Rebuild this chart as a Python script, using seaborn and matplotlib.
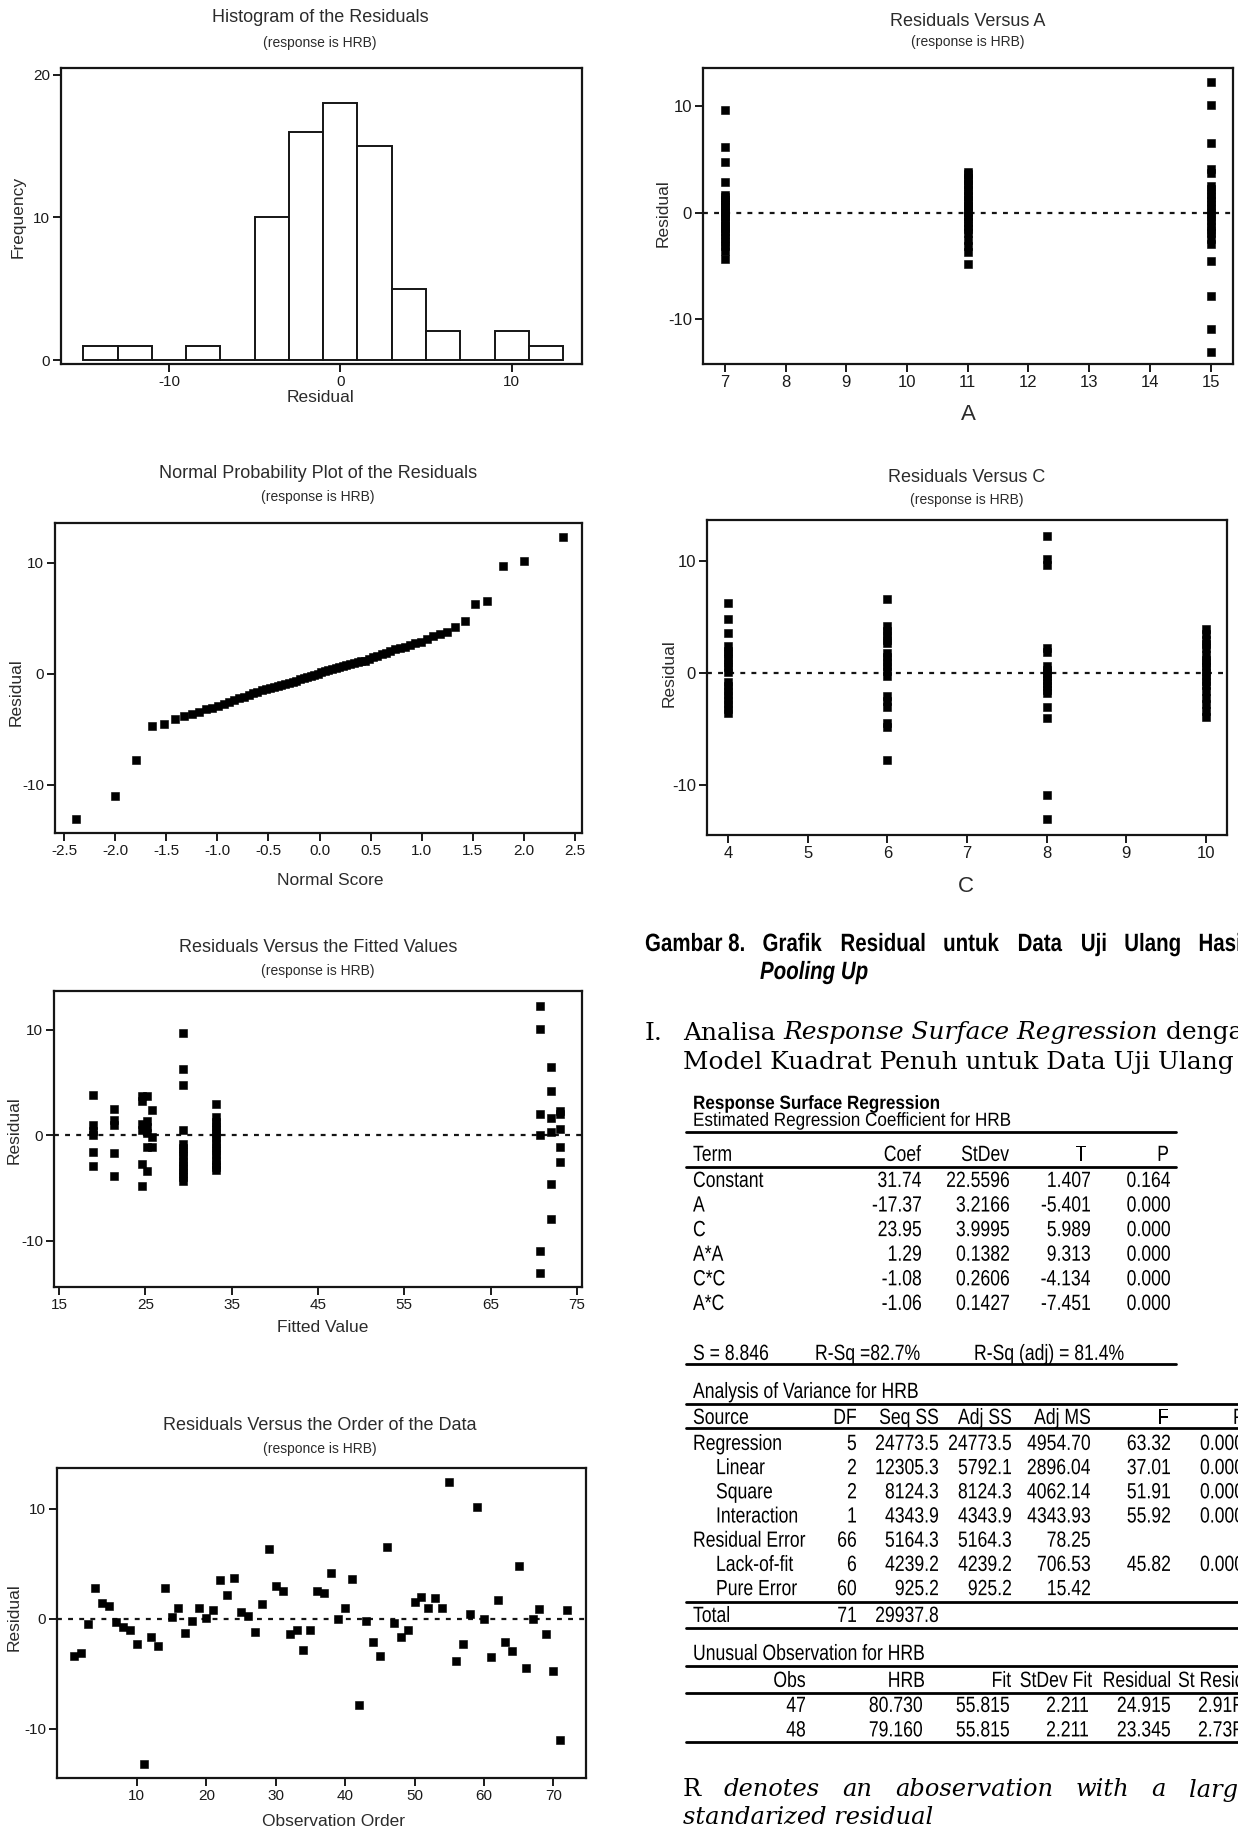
import numpy as np
import pandas as pd
import matplotlib
matplotlib.use("Agg")
import matplotlib.pyplot as plt
from matplotlib.lines import Line2D
from matplotlib.textpath import TextPath
from matplotlib.patches import PathPatch
from matplotlib.font_manager import FontProperties
from matplotlib.transforms import Affine2D, IdentityTransform
import seaborn as sns
from statistics import NormalDist

# ---------------- values ----------------
# histogram of the residuals (bin midpoints, width 2)
hist_mid = [-14, -12, -10, -8, -6, -4, -2, 0, 2, 4, 6, 8, 10, 12]
hist_count = [1, 1, 0, 1, 0, 10, 16, 18, 15, 5, 2, 0, 2, 1]

# normal probability plot, residuals sorted
prob_resid = [-13.1, -11.0, -7.8, -4.7, -4.5, -4.1,
              -3.8, -3.6, -3.4, -3.2, -3.05, -2.9, -2.7, -2.5, -2.35, -2.2,
              -2.05, -1.9, -1.7, -1.6, -1.5, -1.4, -1.3, -1.2, -1.1, -1.0,
              -0.95, -0.85, -0.75, -0.65, -0.5, -0.4, -0.3, -0.2, -0.1, 0.0,
              0.15, 0.25, 0.35, 0.45, 0.55, 0.65, 0.75, 0.8, 0.9, 1.0, 1.05, 1.15,
              1.2, 1.35, 1.5, 1.6, 1.75, 1.9, 2.05, 2.2,
              2.3, 2.45, 2.6, 2.75, 2.9,
              3.1, 3.4, 3.6, 3.8, 4.2,
              4.8, 6.3, 6.6, 9.7, 10.2, 12.3]

# residuals versus fitted values
fit_value = [18.9] * 6 + [21.4] * 5 + [24.6] * 6 + [25.2] * 6 + [25.8] * 3 \
    + [29.4] * 14 + [33.2] * 15 + [70.7] * 6 + [72.0] * 6 + [73.1] * 5
fit_resid = [3.8, 1.0, 0.4, 0.0, -1.6, -2.9,
             2.5, 1.5, 1.0, -1.7, -3.9,
             3.7, 3.3, 1.1, 0.5, -2.7, -4.8,
             3.7, 1.4, 0.8, 0.2, -1.1, -3.4,
             2.4, -0.2, -1.1,
             9.7, 6.3, 4.8, 0.5, -0.8, -1.2, -1.6, -2.0, -2.4, -2.8, -3.2, -3.6, -4.0, -4.3,
             3.0, 1.7, 1.3, 0.9, 0.5, 0.1, -0.3, -0.7, -1.1, -1.5, -1.9, -2.3, -2.7, -3.0, -3.3,
             12.3, 10.1, 2.0, 0.0, -11.0, -13.1,
             6.5, 4.2, 1.6, 0.3, -4.6, -7.9,
             2.3, 2.0, 0.6, -1.1, -2.5]

# residuals in observation order (1..72)
order_resid = [-3.4, -3.1, -0.45, 2.8, 1.45, 1.2, -0.3, -0.75, -1.0, -2.3,
               -13.2, -1.65, -2.5, 2.8, 0.2, 0.95, -1.3, -0.15, 0.95, 0.1,
               0.85, 3.5, 2.2, 3.7, 0.65, 0.25, -1.2, 1.35, 6.3, 2.95,
               2.5, -1.4, -1.0, -2.8, -1.0, 2.5, 2.35, 4.2, 0.0, 1.0,
               3.65, -7.8, -0.15, -2.1, -3.4, 6.55, -0.4, -1.65, -1.0, 1.5,
               2.0, 1.0, 1.9, 1.0, 12.4, -3.8, -2.25, 0.4, 10.2, 0.0,
               -3.5, 1.7, -2.1, -2.9, 4.8, -4.5, 0.0, 0.9, -1.35, -4.75,
               -11.0, 0.8]

# residuals versus factor A
a_levels = [7, 11, 15]
resid_a7 = [9.7, 6.2, 4.8, 2.9, 1.7, 1.5, 1.2, 1.0, 0.7, 0.5, 0.2, 0.0, -0.3, -0.6,
            -0.9, -1.2, -1.4, -1.7, -2.0, -2.4, -2.7, -3.1, -3.6, -4.3]
resid_a11 = [3.8, 3.6, 3.3, 3.1, 2.7, 2.5, 2.1, 1.8, 1.6, 1.2, 0.9, 0.6, 0.4, 0.1,
             -0.3, -0.5, -0.9, -1.2, -1.5, -1.9, -2.6, -3.1, -3.7, -4.8]
resid_a15 = [12.3, 10.1, 6.6, 4.1, 3.7, 2.5, 2.2, 1.8, 1.5, 1.1, 0.7, 0.4, 0.0, -0.4,
             -0.8, -1.2, -1.6, -1.9, -2.5, -2.9, -4.5, -7.8, -10.9, -13.1]

# residuals versus factor C
c_levels = [4, 6, 8, 10]
resid_c4 = [6.3, 4.8, 3.6, 2.4, 2.0, 1.7, 1.3, 0.9, 0.5, 0.1, -0.8, -1.2, -1.6, -2.0,
            -2.4, -2.8, -3.2, -3.6]
resid_c6 = [6.6, 4.2, 3.8, 3.4, 3.0, 2.7, 1.8, 1.4, 1.0, 0.6, 0.2, -0.3, -2.1, -2.5,
            -3.0, -4.5, -4.8, -7.8]
resid_c8 = [12.3, 10.2, 9.7, 2.2, 1.9, 0.6, 0.3, 0.0, -0.3, -0.6, -0.9, -1.2, -1.5,
            -1.8, -3.0, -4.0, -10.9, -13.1]
resid_c10 = [3.9, 3.5, 3.0, 2.6, 2.2, 1.6, 1.2, 0.9, 0.5, 0.1, -0.3, -0.7, -1.1, -1.6,
             -2.2, -2.8, -3.4, -3.9]

# regression output table
coef_terms = ["Constant", "A", "C", "A*A", "C*C", "A*C"]
coef_vals = ["31.74", "-17.37", "23.95", "1.29", "-1.08", "-1.06"]
coef_sd = ["22.5596", "3.2166", "3.9995", "0.1382", "0.2606", "0.1427"]
coef_t = ["1.407", "-5.401", "5.989", "9.313", "-4.134", "-7.451"]
coef_p = ["0.164", "0.000", "0.000", "0.000", "0.000", "0.000"]

anova_src = ["Regression", "Linear", "Square", "Interaction", "Residual Error",
             "Lack-of-fit", "Pure Error"]
anova_indent = [False, True, True, True, False, True, True]
anova_df = ["5", "2", "2", "1", "66", "6", "60"]
anova_seq = ["24773.5", "12305.3", "8124.3", "4343.9", "5164.3", "4239.2", "925.2"]
anova_adj = ["24773.5", "5792.1", "8124.3", "4343.9", "5164.3", "4239.2", "925.2"]
anova_ms = ["4954.70", "2896.04", "4062.14", "4343.93", "78.25", "706.53", "15.42"]
anova_f = ["63.32", "37.01", "51.91", "55.92", "", "45.82", ""]
anova_p = ["0.000", "0.000", "0.000", "0.000", "", "0.000", ""]

unus_obs = ["47", "48"]
unus_hrb = ["80.730", "79.160"]
unus_fit = ["55.815", "55.815"]
unus_sdfit = ["2.211", "2.211"]
unus_res = ["24.915", "23.345"]
unus_st = ["2.91R", "2.73R"]

# ---------------- figure ----------------
sns.set_theme(style="ticks")
plt.rcParams['font.family'] = ['Liberation Sans', 'DejaVu Sans']
plt.rcParams['axes.unicode_minus'] = False
SERIF = 'DejaVu Serif'

W, H = 1238, 1834
fig = plt.figure(figsize=(W / 100, H / 100), dpi=100)
fig.patch.set_facecolor('white')
renderer = fig.canvas.get_renderer()
INK = '#2b2b2b'


def px_axes(l, t, r, b):
    return fig.add_axes([l / W, 1 - b / H, (r - l) / W, (b - t) / H])


def ftxt(x, y, s, **kw):
    kw.setdefault('va', 'center')
    return fig.text(x / W, 1 - y / H, s, **kw)


def hline(x0, x1, y, lw=2.0):
    fig.add_artist(Line2D([x0 / W, x1 / W], [1 - y / H, 1 - y / H],
                          color='black', lw=lw, transform=fig.transFigure))


def width_of(s, **kw):
    t = fig.text(0, 0, s, **kw)
    w = t.get_window_extent(renderer).width
    t.remove()
    return w


def fit_size(s, target, **kw):
    return 10 * target / width_of(s, size=10, **kw)


def chain(x, y, parts):
    for s, st in parts:
        ftxt(x, y, s, ha='left', **st)
        x += width_of(s, **st)


# narrow (condensed) sans text, drawn as a horizontally squeezed text path
def npath(s, px, weight='normal', style='normal'):
    fp = FontProperties(family='Liberation Sans', weight=weight, style=style)
    return TextPath((0, 0), s, size=px, prop=fp)


def nwidth(s, px=22, sx=0.8, **kw):
    return npath(s, px, **kw).get_extents().x1 * sx


def ntext(x, y, s, px=22, sx=0.8, ha='left', **kw):
    if not s:
        return
    tp = npath(s, px, **kw)
    w = tp.get_extents().x1 * sx
    x0 = x if ha == 'left' else x - w
    base = H - (y + 0.36 * px)
    tr = Affine2D().scale(sx, 1).translate(x0, base)
    fig.add_artist(PathPatch(tr.transform_path(tp), facecolor='black',
                             edgecolor='none', transform=IdentityTransform()))


def style_axes(ax, xlim, ylim, xticks, yticks, xticklabels=None, tsize=11):
    ax.set_xlim(xlim)
    ax.set_ylim(ylim)
    ax.set_xticks(xticks)
    ax.set_yticks(yticks)
    if xticklabels is not None:
        ax.set_xticklabels(xticklabels)
    for s in ax.spines.values():
        s.set_visible(True)
        s.set_linewidth(1.6)
        s.set_color('#151515')
    ax.tick_params(direction='out', length=6, width=1.4, labelsize=tsize,
                   colors='#1a1a1a', pad=2)
    ax.set_xlabel('')
    ax.set_ylabel('')
    ax.set_facecolor('white')


def zero_line(ax):
    ax.axhline(0, color='#151515', lw=1.6, ls=(0, (2.2, 2.8)), zorder=1)


def titles(cx, y, ysub, title, sub='(response is HRB)'):
    ftxt(cx, y, title, ha='center', size=13, color=INK)
    ftxt(cx, ysub, sub, ha='center', size=10, color=INK)


LAB = dict(size=12.5, color=INK, ha='center')
dot = dict(marker='s', s=36, color='black', edgecolor='black', linewidth=0.4,
           legend=False, zorder=3)

# ---- histogram ----
hist_values = np.repeat(hist_mid, hist_count)
ax = px_axes(61, 68, 582, 364)
sns.histplot(x=hist_values, bins=list(range(-15, 15, 2)), ax=ax,
             color='white', edgecolor='#151515', linewidth=1.4, alpha=1)
style_axes(ax, (-16.3, 14.1), (-0.28, 20.47), [-10, 0, 10], [0, 10, 20])
titles(320, 18, 43, 'Histogram of the Residuals')
ftxt(320, 397, 'Residual', **LAB)
ftxt(18, 217, 'Frequency', rotation=90, **LAB)

# ---- normal probability plot ----
n = len(prob_resid)
scores = [NormalDist().inv_cdf((i + 1 - 0.375) / (n + 0.25)) for i in range(n)]
ax = px_axes(55, 523, 582, 833)
sns.scatterplot(x=scores, y=prob_resid, ax=ax, **dot)
ticks = [-2.5, -2.0, -1.5, -1.0, -0.5, 0.0, 0.5, 1.0, 1.5, 2.0, 2.5]
style_axes(ax, (-2.59, 2.57), (-14.35, 13.6), ticks, [-10, 0, 10],
           xticklabels=[f'{t:.1f}' for t in ticks])
titles(318, 473, 497, 'Normal Probability Plot of the Residuals')
ftxt(330, 880, 'Normal Score', **LAB)
ftxt(16, 692, 'Residual', rotation=90, **LAB)

# ---- residuals versus fitted ----
ax = px_axes(54, 991, 582, 1287)
zero_line(ax)
sns.scatterplot(x=fit_value, y=fit_resid, ax=ax, **dot)
style_axes(ax, (14.4, 75.6), (-14.4, 13.7), list(range(15, 76, 10)), [-10, 0, 10])
titles(318, 947, 971, 'Residuals Versus the Fitted Values')
ftxt(323, 1328, 'Fitted Value', **LAB)
ftxt(14, 1130, 'Residual', rotation=90, **LAB)

# ---- residuals versus order ----
ax = px_axes(57, 1468, 586, 1778)
zero_line(ax)
sns.scatterplot(x=np.arange(1, len(order_resid) + 1), y=order_resid, ax=ax, **dot)
style_axes(ax, (-1.5, 74.7), (-14.45, 13.7), list(range(10, 71, 10)), [-10, 0, 10])
titles(320, 1426, 1449, 'Residuals Versus the Order of the Data', '(responce is HRB)')
ftxt(334, 1822, 'Observation Order', **LAB)
ftxt(14, 1617, 'Residual', rotation=90, **LAB)

# ---- residuals versus A ----
df_a = pd.DataFrame({'A': np.repeat(a_levels, 24),
                     'Residual': resid_a7 + resid_a11 + resid_a15})
ax = px_axes(703, 68, 1233, 364)
zero_line(ax)
sns.scatterplot(data=df_a, x='A', y='Residual', ax=ax, **dot)
style_axes(ax, (6.64, 15.37), (-14.2, 13.6), list(range(7, 16)), [-10, 0, 10], tsize=12)
titles(968, 22, 42, 'Residuals Versus A')
ftxt(968, 414, 'A', size=16, color=INK, ha='center')
ftxt(663, 213, 'Residual', rotation=90, **LAB)

# ---- residuals versus C ----
df_c = pd.DataFrame({'C': np.repeat(c_levels, 18),
                     'Residual': resid_c4 + resid_c6 + resid_c8 + resid_c10})
ax = px_axes(707, 520, 1227, 835)
zero_line(ax)
sns.scatterplot(data=df_c, x='C', y='Residual', ax=ax, **dot)
style_axes(ax, (3.73, 10.27), (-14.5, 13.7), list(range(4, 11)), [-10, 0, 10], tsize=12)
titles(967, 478, 500, 'Residuals Versus C')
ftxt(966, 886, 'C', size=16, color=INK, ha='center')
ftxt(669, 673, 'Residual', rotation=90, **LAB)

# ---------------- caption and heading ----------------
cap_words = ['Gambar 8.', 'Grafik', 'Residual', 'untuk', 'Data', 'Uji', 'Ulang', 'Hasil']
cw = [nwidth(w, 25, 0.82, weight='bold') for w in cap_words]
gap = (1246 - 645 - sum(cw)) / (len(cap_words) - 1)
x = 645
for w, wd in zip(cap_words, cw):
    ntext(x, 942, w, 25, 0.82, weight='bold')
    x += wd + gap
ntext(760, 970, 'Pooling Up', 25, 0.82, weight='bold', style='italic')

hsize = fit_size('Model Kuadrat Penuh untuk Data Uji Ulang', 554, family=SERIF)
hd = dict(family=SERIF, size=hsize, color='black')
ftxt(645, 1033, 'I.', ha='left', **hd)
chain(683, 1033, [('Analisa ', hd), ('Response Surface Regression', dict(hd, style='italic')),
                  (' dengan', hd)])
ftxt(683, 1063, 'Model Kuadrat Penuh untuk Data Uji Ulang', ha='left', **hd)

# ---------------- regression table ----------------
ntext(693, 1102, 'Response Surface Regression', 19, 0.9, weight='bold')
ntext(693, 1119, 'Estimated Regression Coefficient for HRB', 19, 0.9)
hline(686, 1176, 1132)
ntext(693, 1153, 'Term')
for s, xr in zip(['Coef', 'StDev', 'T', 'P'], [921, 1009, 1086, 1168]):
    ntext(xr, 1153, s, ha='right')
hline(686, 1176, 1167)
for i in range(len(coef_terms)):
    y = 1179 + i * 24.6
    ntext(693, y, coef_terms[i])
    for s, xr in zip([coef_vals[i], coef_sd[i], coef_t[i], coef_p[i]], [921, 1009, 1090, 1170]):
        ntext(xr, y, s, ha='right')
ntext(693, 1352, 'S = 8.846')
ntext(815, 1352, 'R-Sq =82.7%')
ntext(974, 1352, 'R-Sq (adj) = 81.4%')
hline(686, 1176, 1364)

ntext(693, 1390, 'Analysis of Variance for HRB')
hline(686, 1245, 1404)
ntext(693, 1416, 'Source')
for s, xr in zip(['DF', 'Seq SS', 'Adj SS', 'Adj MS', 'F'], [856, 938, 1011, 1090, 1168]):
    ntext(xr, 1416, s, ha='right')
ntext(1233, 1416, 'P')
hline(686, 1245, 1428)
for i in range(len(anova_src)):
    y = 1442 + i * 24.2
    ntext(716 if anova_indent[i] else 693, y, anova_src[i])
    cells = [anova_df[i], anova_seq[i], anova_adj[i], anova_ms[i], anova_f[i]]
    for s, xr in zip(cells, [856, 938, 1011, 1090, 1170]):
        ntext(xr, y, s, ha='right')
    ntext(1200, y, anova_p[i])
hline(686, 1245, 1602)
ntext(693, 1614, 'Total')
ntext(856, 1614, '71', ha='right')
ntext(938, 1614, '29937.8', ha='right')
hline(686, 1245, 1628)

ntext(693, 1652, 'Unusual Observation for HRB')
hline(686, 1245, 1666)
for s, xr in zip(['Obs', 'HRB', 'Fit', 'StDev Fit', 'Residual'], [805, 924, 1011, 1092, 1170]):
    ntext(xr, 1679, s, ha='right')
ntext(1178, 1679, 'St Resid')
hline(686, 1245, 1693)
for i in range(len(unus_obs)):
    y = 1704 + i * 24.5
    for s, xr in zip([unus_obs[i], unus_hrb[i], unus_fit[i], unus_sdfit[i], unus_res[i]],
                     [805, 922, 1009, 1088, 1170]):
        ntext(xr, y, s, ha='right')
    ntext(1198, y, unus_st[i])
hline(686, 1245, 1742)

# ---------------- note under the table ----------------
bsize = fit_size('standarized residual', 250, family=SERIF, style='italic')
body = dict(family=SERIF, size=bsize, color='black')
words = ['R', 'denotes', 'an', 'aboservation', 'with', 'a', 'large']
styles = [body] + [dict(body, style='italic')] * 6
widths = [width_of(w, **st) for w, st in zip(words, styles)]
gap = (1252 - 683 - sum(widths)) / (len(words) - 1)
x = 683
for w, st, wd in zip(words, styles, widths):
    ftxt(x, 1790, w, ha='left', **st)
    x += wd + gap
ftxt(683, 1817, 'standarized residual', ha='left', **dict(body, style='italic'))

fig.savefig('out.png', dpi=100)
